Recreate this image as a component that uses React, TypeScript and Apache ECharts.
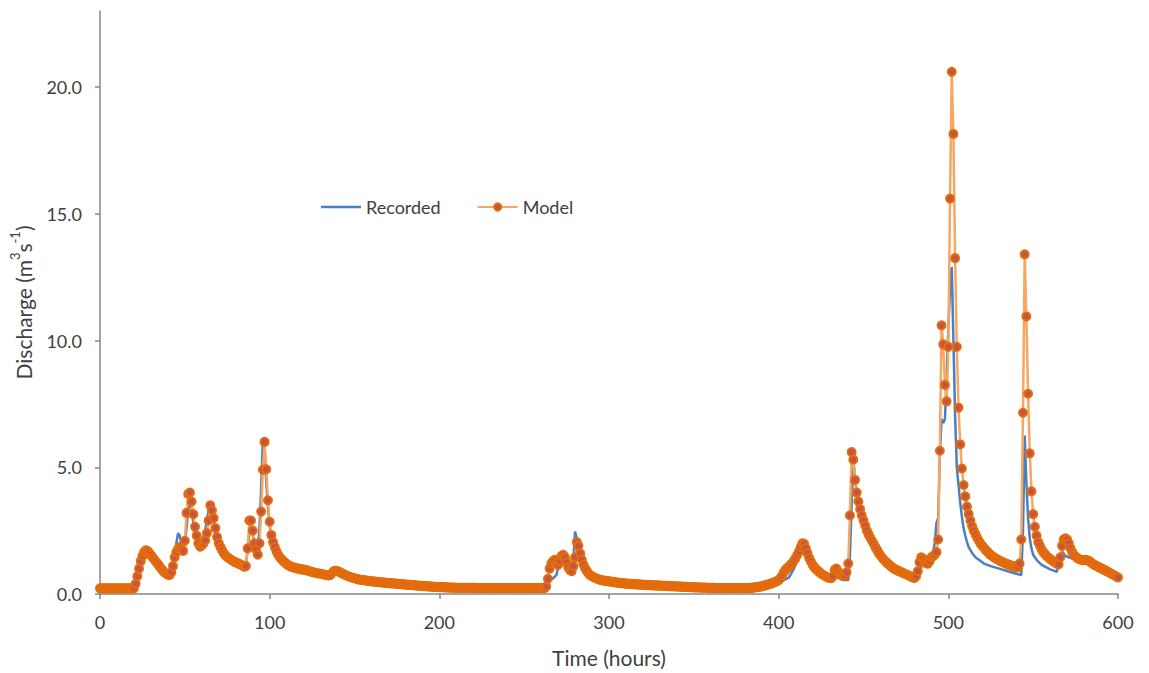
import React, { useEffect, useRef } from "react";
import * as echarts from "echarts";

// Hours 0..600, one model value per hour (m3/s)
const modelValues: number[] = [
  // 0-9
  0.22, 0.22, 0.22, 0.22, 0.22, 0.22, 0.22, 0.22, 0.22, 0.22,
  // 10-19
  0.22, 0.22, 0.22, 0.22, 0.22, 0.22, 0.22, 0.22, 0.22, 0.22,
  // 20-29
  0.22, 0.4, 0.7, 1.0, 1.3, 1.5, 1.65, 1.72, 1.7, 1.62,
  // 30-39
  1.54, 1.45, 1.36, 1.27, 1.19, 1.1, 1.0, 0.92, 0.85, 0.8,
  // 40-49
  0.76, 0.75, 0.85, 1.1, 1.45, 1.65, 1.78, 1.85, 1.8, 1.7,
  // 50-59
  2.1, 3.2, 3.95, 4.0, 3.65, 3.15, 2.65, 2.3, 2.0, 1.87,
  // 60-69
  1.92, 2.0, 2.12, 2.4, 2.9, 3.5, 3.3, 3.0, 2.6, 2.25,
  // 70-79
  2.0, 1.85, 1.72, 1.6, 1.52, 1.46, 1.41, 1.36, 1.32, 1.28,
  // 80-89
  1.25, 1.22, 1.19, 1.16, 1.12, 1.08, 1.1, 1.8, 2.9, 2.9,
  // 90-99
  2.5, 2.0, 1.75, 1.55, 2.0, 3.25, 4.9, 6.0, 4.92, 3.7,
  // 100-109
  2.85, 2.33, 2.05, 1.85, 1.68, 1.55, 1.45, 1.37, 1.3, 1.25,
  // 110-119
  1.18, 1.14, 1.1, 1.07, 1.05, 1.03, 1.01, 1.0, 0.98, 0.97,
  // 120-129
  0.96, 0.95, 0.93, 0.91, 0.89, 0.87, 0.85, 0.84, 0.82, 0.81,
  // 130-139
  0.8, 0.79, 0.77, 0.75, 0.74, 0.73, 0.76, 0.84, 0.91, 0.92,
  // 140-149
  0.9, 0.87, 0.84, 0.8, 0.77, 0.74, 0.71, 0.68, 0.66, 0.64,
  // 150-159
  0.62, 0.6, 0.58, 0.57, 0.56, 0.55, 0.54, 0.53, 0.52, 0.51,
  // 160-169
  0.5, 0.5, 0.49, 0.48, 0.47, 0.47, 0.46, 0.45, 0.45, 0.44,
  // 170-179
  0.43, 0.43, 0.42, 0.42, 0.41, 0.4, 0.4, 0.39, 0.39, 0.38,
  // 180-189
  0.37, 0.37, 0.36, 0.36, 0.35, 0.35, 0.34, 0.33, 0.33, 0.32,
  // 190-199
  0.32, 0.31, 0.31, 0.3, 0.3, 0.29, 0.29, 0.28, 0.28, 0.28,
  // 200-209
  0.27, 0.27, 0.27, 0.26, 0.26, 0.26, 0.25, 0.25, 0.25, 0.25,
  // 210-219
  0.24, 0.24, 0.24, 0.24, 0.24, 0.24, 0.24, 0.24, 0.24, 0.24,
  // 220-229
  0.24, 0.24, 0.24, 0.23, 0.23, 0.23, 0.23, 0.23, 0.23, 0.23,
  // 230-239
  0.23, 0.23, 0.23, 0.23, 0.23, 0.23, 0.23, 0.23, 0.23, 0.23,
  // 240-249
  0.23, 0.23, 0.23, 0.23, 0.23, 0.23, 0.23, 0.23, 0.23, 0.23,
  // 250-259
  0.23, 0.23, 0.23, 0.23, 0.23, 0.23, 0.23, 0.23, 0.23, 0.23,
  // 260-269
  0.23, 0.23, 0.23, 0.3, 0.6, 1.0, 1.2, 1.3, 1.35, 1.25,
  // 270-279
  1.15, 1.3, 1.5, 1.55, 1.45, 1.25, 1.05, 0.95, 0.9, 1.1,
  // 280-289
  1.45, 2.05, 1.9, 1.6, 1.35, 1.15, 1.0, 0.9, 0.8, 0.74,
  // 290-299
  0.7, 0.66, 0.63, 0.6, 0.58, 0.56, 0.54, 0.53, 0.52, 0.51,
  // 300-309
  0.5, 0.49, 0.48, 0.47, 0.46, 0.45, 0.44, 0.43, 0.43, 0.42,
  // 310-319
  0.41, 0.41, 0.4, 0.4, 0.39, 0.39, 0.38, 0.38, 0.37, 0.37,
  // 320-329
  0.36, 0.36, 0.36, 0.35, 0.35, 0.35, 0.34, 0.34, 0.34, 0.33,
  // 330-339
  0.33, 0.33, 0.32, 0.32, 0.32, 0.31, 0.31, 0.31, 0.3, 0.3,
  // 340-349
  0.3, 0.29, 0.29, 0.29, 0.28, 0.28, 0.28, 0.27, 0.27, 0.27,
  // 350-359
  0.26, 0.26, 0.26, 0.26, 0.25, 0.25, 0.25, 0.25, 0.24, 0.24,
  // 360-369
  0.24, 0.24, 0.24, 0.23, 0.23, 0.23, 0.23, 0.23, 0.23, 0.23,
  // 370-379
  0.23, 0.23, 0.23, 0.23, 0.23, 0.23, 0.23, 0.23, 0.23, 0.23,
  // 380-389
  0.23, 0.23, 0.23, 0.24, 0.24, 0.25, 0.26, 0.27, 0.28, 0.29,
  // 390-399
  0.3, 0.32, 0.34, 0.36, 0.38, 0.4, 0.42, 0.45, 0.48, 0.51,
  // 400-409
  0.55, 0.62, 0.72, 0.85, 0.95, 1.02, 1.08, 1.15, 1.22, 1.32,
  // 410-419
  1.42, 1.55, 1.68, 1.85, 2.0, 1.98, 1.8, 1.6, 1.42, 1.28,
  // 420-429
  1.15, 1.06, 0.98, 0.92, 0.86, 0.81, 0.76, 0.72, 0.68, 0.65,
  // 430-439
  0.63, 0.62, 0.7, 0.95, 1.0, 0.88, 0.8, 0.76, 0.73, 0.72,
  // 440-449
  0.85, 1.2, 3.1, 5.6, 5.3, 4.5, 4.0, 3.65, 3.35, 3.1,
  // 450-459
  2.9, 2.7, 2.5, 2.35, 2.22, 2.1, 1.98, 1.85, 1.74, 1.62,
  // 460-469
  1.52, 1.43, 1.35, 1.28, 1.22, 1.16, 1.1, 1.05, 1.0, 0.96,
  // 470-479
  0.93, 0.9, 0.87, 0.84, 0.81, 0.78, 0.75, 0.72, 0.68, 0.65,
  // 480-489
  0.63, 0.7, 0.9, 1.25, 1.45, 1.4, 1.3, 1.22, 1.2, 1.3,
  // 490-499
  1.45, 1.5, 1.55, 1.65, 2.15, 5.65, 10.6, 9.85, 8.25, 7.6,
  // 500-509
  9.75, 15.6, 20.6, 18.15, 13.25, 9.75, 7.35, 5.9, 4.95, 4.3,
  // 510-519
  3.85, 3.45, 3.15, 2.9, 2.68, 2.5, 2.35, 2.22, 2.1, 1.98,
  // 520-529
  1.9, 1.82, 1.74, 1.67, 1.6, 1.54, 1.49, 1.44, 1.4, 1.36,
  // 530-539
  1.32, 1.29, 1.26, 1.23, 1.2, 1.17, 1.15, 1.12, 1.1, 1.08,
  // 540-549
  1.06, 1.05, 1.2, 2.15, 7.15, 13.4, 10.95, 7.9, 5.55, 4.05,
  // 550-559
  3.15, 2.65, 2.3, 2.05, 1.9, 1.75, 1.65, 1.57, 1.5, 1.44,
  // 560-569
  1.38, 1.33, 1.28, 1.24, 1.2, 1.17, 1.45, 1.9, 2.15, 2.2,
  // 570-579
  2.15, 2.0, 1.8, 1.65, 1.55, 1.48, 1.42, 1.38, 1.35, 1.34,
  // 580-589
  1.34, 1.34, 1.33, 1.3, 1.25, 1.2, 1.15, 1.12, 1.08, 1.05,
  // 590-599
  1.02, 0.98, 0.95, 0.91, 0.88, 0.84, 0.8, 0.77, 0.73, 0.69,
  // 600
  0.65,
];

// Recorded discharge as [hour, value] readings
const recordedHours: number[] = [
  0, 20, 21, 22, 23, 24, 25, 26, 27, 28, 30, 33, 36, 39, 41, 42, 43, 44, 45, 46,
  47, 48, 49, 50, 51, 52, 53, 54, 55, 56, 57, 58, 59, 60, 61, 62, 63, 64, 65, 66,
  67, 68, 69, 70, 72, 75, 80, 85, 86, 87, 88, 89, 90, 91, 92, 93, 94, 95, 96, 97,
  98, 99, 100, 101, 102, 104, 107, 110, 115, 120, 125, 130, 135, 138, 140, 145, 152, 162, 172, 182,
  191, 201, 211, 262, 263, 264, 265, 267, 269, 271, 273, 275, 277, 278, 279, 280, 281, 282, 283, 285,
  288, 292, 300, 313, 323, 342, 362, 382, 389, 395, 400, 403, 406, 409, 412, 414, 415, 416, 418, 420,
  423, 426, 430, 432, 434, 436, 438, 441, 442, 443, 444, 445, 446, 448, 450, 455, 460, 465, 470, 475,
  480, 482, 484, 486, 488, 490, 492, 493, 494, 495, 496, 497, 498, 499, 500, 501, 502, 503, 504, 505,
  506, 507, 508, 509, 510, 511, 512, 514, 516, 518, 521, 525, 530, 535, 540, 543, 544, 545, 546, 547,
  548, 549, 550, 552, 555, 560, 564, 565, 566, 567, 568, 569, 571, 573, 576, 580, 583, 587, 592, 596,
  600,
];
const recordedValues: number[] = [
  0.22, 0.22, 0.3, 0.5, 0.85, 1.2, 1.45, 1.62, 1.68, 1.62, 1.45, 1.15, 0.9, 0.76, 0.74, 0.85, 1.05, 1.4, 2.0, 2.4,
  2.3, 1.95, 1.8, 2.0, 2.6, 3.3, 3.7, 3.4, 2.8, 2.35, 2.1, 2.0, 2.0, 2.1, 2.25, 2.5, 2.9, 3.3, 3.55, 3.3,
  2.9, 2.5, 2.2, 2.0, 1.72, 1.45, 1.25, 1.08, 1.2, 1.7, 2.4, 2.6, 2.4, 2.0, 1.8, 1.9, 2.6, 4.2, 6.1, 5.6,
  4.4, 3.4, 2.7, 2.25, 1.95, 1.62, 1.33, 1.18, 1.03, 0.96, 0.87, 0.8, 0.72, 0.92, 0.9, 0.75, 0.58, 0.5, 0.43, 0.37,
  0.31, 0.27, 0.24, 0.22, 0.28, 0.4, 0.55, 0.62, 0.75, 1.3, 1.5, 1.3, 1.0, 0.95, 1.3, 2.46, 2.2, 1.8, 1.5, 1.1,
  0.8, 0.62, 0.5, 0.38, 0.35, 0.29, 0.24, 0.22, 0.26, 0.35, 0.45, 0.55, 0.65, 1.0, 1.55, 1.9, 1.98, 1.8, 1.4, 1.12,
  0.88, 0.7, 0.52, 0.55, 0.68, 0.6, 0.55, 0.55, 1.5, 3.5, 5.3, 4.6, 4.0, 3.3, 2.85, 2.05, 1.48, 1.12, 0.9, 0.75,
  0.6, 0.75, 1.1, 1.1, 1.15, 1.3, 2.0, 2.8, 3.0, 5.5, 6.9, 6.75, 6.9, 8.5, 10.5, 12.0, 12.9, 10.0, 7.0, 5.0,
  4.3, 3.6, 3.05, 2.6, 2.3, 2.05, 1.85, 1.62, 1.45, 1.35, 1.2, 1.1, 1.0, 0.9, 0.8, 0.75, 2.5, 6.25, 4.4, 3.0,
  2.2, 1.8, 1.55, 1.35, 1.15, 0.97, 0.88, 1.2, 1.6, 1.7, 1.6, 1.5, 1.45, 1.4, 1.38, 1.34, 1.3, 1.12, 0.95, 0.8,
  0.65,
];

const yTickValues: number[] = [0, 5, 10, 15, 20];
const xTickValues: number[] = [0, 100, 200, 300, 400, 500, 600];

const FONT = "Lato, 'Open Sans', sans-serif";
const TEXT = "#404040";
const AXIS = "#868686";
const BLUE = "#4a7fc1";

export default function App() {
  const ref = useRef<HTMLDivElement>(null);

  useEffect(() => {
    if (!ref.current) return;
    const chart = echarts.init(ref.current, undefined, { renderer: "svg" });

    const modelData = modelValues.map((v, i) => [i, v]);
    const recordedData = recordedHours.map((h, i) => [h, recordedValues[i]]);

    chart.setOption({
      animation: false,
      backgroundColor: "#ffffff",
      textStyle: { fontFamily: FONT },
      grid: { left: 98, right: 31, top: 11, bottom: 79, containLabel: false },
      legend: {
        left: 316,
        top: 193,
        itemWidth: 40,
        itemHeight: 9,
        itemGap: 36,
        textStyle: { fontSize: 18, color: TEXT, fontFamily: FONT },
        data: [
          { name: "Recorded", icon: "path://M0,0 L40,0 L40,2.5 L0,2.5 Z" },
          { name: "Model" },
        ],
      },
      xAxis: {
        type: "value",
        min: 0,
        max: 600,
        interval: 100,
        name: "Time (hours)",
        nameLocation: "middle",
        nameGap: 53,
        nameTextStyle: { fontSize: 21, color: TEXT, fontFamily: FONT },
        axisLine: { show: true, lineStyle: { color: AXIS, width: 1.5 } },
        axisTick: { show: true, length: 5, inside: false, lineStyle: { color: AXIS, width: 1.5 }, customValues: xTickValues },
        axisLabel: { fontSize: 18, color: TEXT, margin: 19, fontFamily: FONT, customValues: xTickValues },
        splitLine: { show: false },
      },
      yAxis: {
        type: "value",
        min: 0,
        max: 23,
        interval: 5,
        name: "{a|Discharge (m}{s|3}{a|s}{s|-1}{a|)}",
        nameLocation: "middle",
        nameGap: 66,
        nameRotate: 90,
        nameTextStyle: {
          fontSize: 21,
          color: TEXT,
          fontFamily: FONT,
          rich: {
            a: { fontSize: 21, color: TEXT, fontFamily: FONT, lineHeight: 26, verticalAlign: "bottom" },
            s: { fontSize: 13, color: TEXT, fontFamily: FONT, lineHeight: 26, verticalAlign: "top", padding: [0, 0, 10, 0] },
          },
        },
        axisLine: { show: true, lineStyle: { color: AXIS, width: 1.5 } },
        axisTick: { show: true, length: 5, inside: false, lineStyle: { color: AXIS, width: 1.5 }, customValues: yTickValues },
        axisLabel: {
          fontSize: 18,
          color: TEXT,
          margin: 18,
          fontFamily: FONT,
          customValues: yTickValues,
          formatter: (v: number) => v.toFixed(1),
        },
        splitLine: { show: false },
      },
      series: [
        {
          name: "Recorded",
          type: "line",
          data: recordedData,
          showSymbol: false,
          symbol: "none",
          lineStyle: { color: BLUE, width: 2.5 },
          itemStyle: { color: BLUE },
          z: 2,
        },
        {
          name: "Model",
          type: "line",
          data: modelData,
          symbol: "circle",
          symbolSize: 8,
          showSymbol: true,
          showAllSymbol: true,
          lineStyle: { color: "#f7a75f", width: 2.5 },
          itemStyle: { color: "#c2554a", borderColor: "#e46c0a", borderWidth: 2 },
          z: 3,
        },
      ],
    });

    return () => chart.dispose();
  }, []);

  return (
    <div
      ref={ref}
      style={{ position: "fixed", left: 0, top: 0, width: 1149, height: 673 }}
    />
  );
}
